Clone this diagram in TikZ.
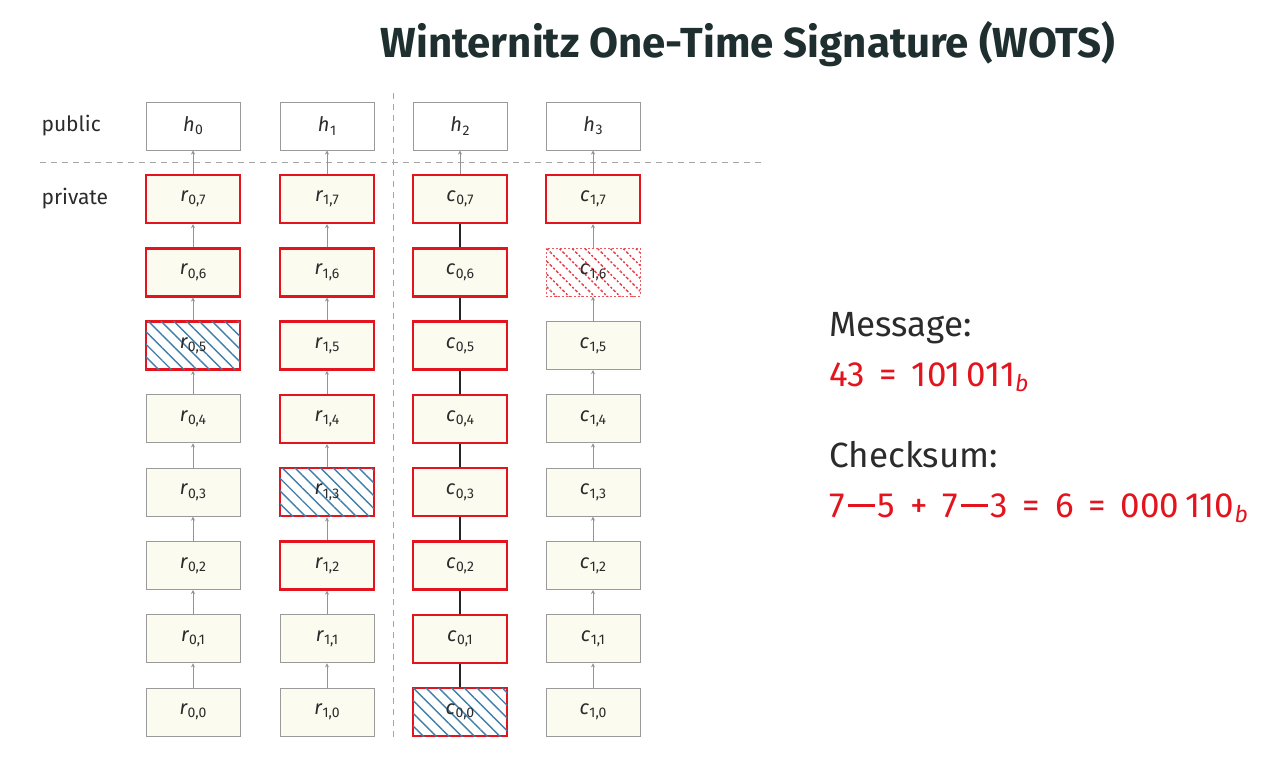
\documentclass[tikz,border=0pt]{standalone}
\usepackage{fontspec}
\setmainfont{Fira Sans}
\usetikzlibrary{patterns.meta,arrows.meta}
\definecolor{ink}{HTML}{2B2B2B}
\definecolor{titleink}{HTML}{1F2E2E}
\definecolor{accent}{HTML}{E3141E}
\definecolor{cream}{HTML}{FCFBF0}
\definecolor{boxline}{HTML}{9A9A9A}
\definecolor{hatchblue}{HTML}{3F7FA8}
% key label: italic letter with a small upright index
\newcommand{\keyv}[2]{{\itshape #1}\kern0.5pt\raisebox{-0.3ex}{\fontsize{14}{14}\selectfont #2}}
% wide operators for the formulas
\newcommand{\opminus}{\kern0.08em\rule[0.3em]{0.78em}{0.065em}\kern0.08em}
\newcommand{\opsp}[1]{\hspace{0.42em}#1\hspace{0.42em}}
\newcommand{\binsub}{\raisebox{-0.3ex}{\fontsize{23}{23}\selectfont\itshape b}}
\begin{document}
\begin{tikzpicture}[x=1pt,y=-1pt,
  keybox/.style={draw=boxline,line width=1pt,fill=cream,minimum width=94pt,minimum height=48pt,
    inner sep=0pt,text=ink,font=\fontsize{20}{20}\selectfont},
  pubbox/.style={keybox,fill=white},
  plain/.style={},
  used/.style={draw=accent,line width=2.4pt},
  sigblue/.style={used,fill=white,postaction={pattern={Lines[angle=-45,distance=9pt,line width=1.4pt]},pattern color=hatchblue}},
  sigred/.style={draw=accent!70,dash pattern=on 2pt off 2pt,line width=0.8pt,fill=white,
    postaction={pattern={Lines[angle=-45,distance=9pt,line width=1.4pt]},pattern color=accent!85}},
  conn/.style={draw=gray!85,line width=1pt,-{Stealth[length=4pt,width=4pt]}},
  conndark/.style={draw=black!85,line width=1.2pt},
  sep/.style={draw=gray!70,line width=0.9pt,dash pattern=on 6pt off 5pt},
  side/.style={anchor=west,text=ink,font=\fontsize{21}{21}\selectfont},
  info/.style={anchor=base west,font=\fontsize{35}{35}\selectfont},
  formula/.style={anchor=base west,text=accent,font=\fontsize{35}{35}\selectfont}
]
\useasboundingbox (0,0) rectangle (1288,771);
\fill[white] (0,0) rectangle (1288,771);

% title
\node[text=titleink,font=\fontsize{42}{42}\selectfont\bfseries] (title) at (748,44) {Winternitz One-Time Signature (WOTS)};

% separators: public/private, and message chains / checksum chains
\draw[sep] (40,162) -- (765,162);
\draw[sep] (393,93) -- (393,738);

\node[side] (pub) at (38,126) {public};
\node[side] (priv) at (38,199) {private};

% public keys
\foreach \i/\x in {0/193,1/327,2/460,3/593}
  \node[pubbox] (h\i) at (\x,126) {\keyv{h}{\i}};

% hash chains, row 7 at the top; each row lists the look of r0, r1, c0, c1
\foreach \j/\sa/\sb/\sc/\sd in {
    0/plain/plain/sigblue/plain,
    1/plain/plain/used/plain,
    2/plain/used/used/plain,
    3/plain/sigblue/used/plain,
    4/plain/used/used/plain,
    5/sigblue/used/used/plain,
    6/used/used/used/sigred,
    7/used/used/used/used} {
  \pgfmathsetmacro{\yy}{199+(7-\j)*73.3}
  \node[keybox,\sa] (r0\j) at (193,\yy) {\keyv{r}{0,\j}};
  \node[keybox,\sb] (r1\j) at (327,\yy) {\keyv{r}{1,\j}};
  \node[keybox,\sc] (c0\j) at (460,\yy) {\keyv{c}{0,\j}};
  \node[keybox,\sd] (c1\j) at (593,\yy) {\keyv{c}{1,\j}};
}

% chain connectors
\foreach \j [evaluate=\j as \k using int(\j+1)] in {0,...,6} {
  \draw[conn] (r0\j) -- (r0\k);
  \draw[conn] (r1\j) -- (r1\k);
  \draw[conndark] (c0\j) -- (c0\k);
  \draw[conn] (c1\j) -- (c1\k);
}
\draw[conn] (r07) -- (h0);
\draw[conn] (r17) -- (h1);
\draw[conn] (c07) -- (h2);
\draw[conn] (c17) -- (h3);

% message and checksum
\node[info,text=ink] (msg) at (826,336) {Message:};
\node[formula] (msgval) at (826,386) {43\opsp{=}101\,011\binsub};
\node[info,text=ink] (chk) at (826,467) {Checksum:};
\node[formula] (chkval) at (826,517) {7\opminus5\opsp{+}7\opminus3\opsp{=}6\opsp{=}000\,110\binsub};
\end{tikzpicture}
\end{document}
